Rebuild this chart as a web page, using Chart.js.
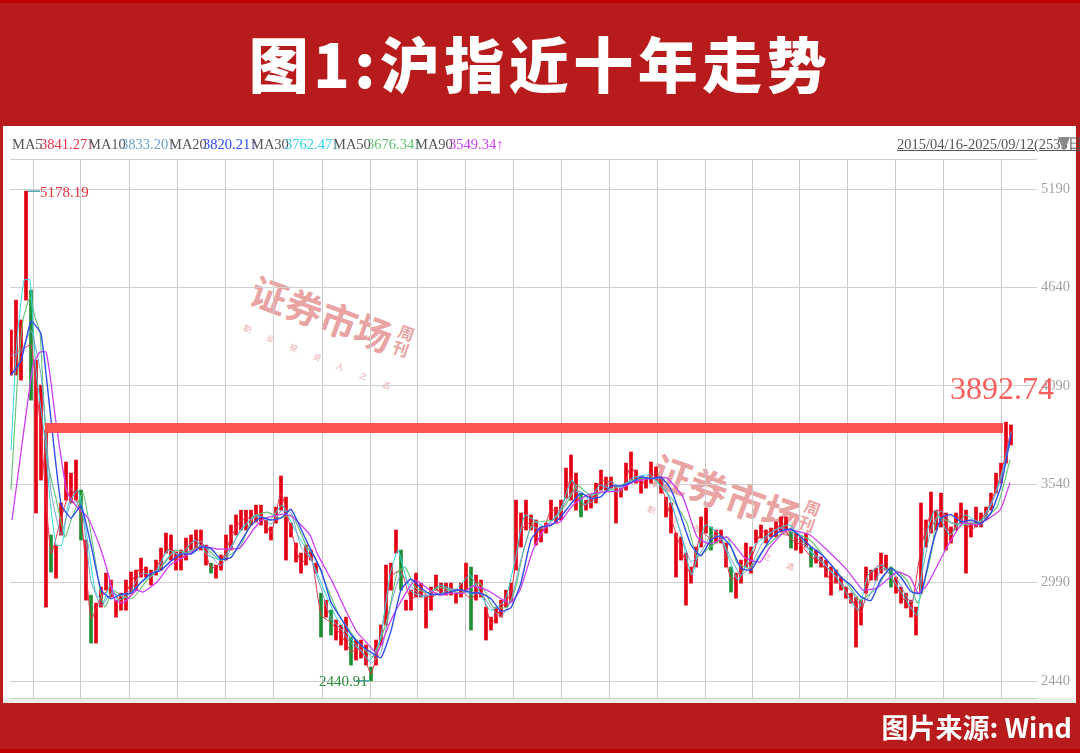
<!DOCTYPE html>
<html lang="zh"><head><meta charset="utf-8">
<script src="https://cdn.jsdelivr.net/npm/chart.js@4"></script>
<style>
html,body{margin:0;padding:0;background:#b71c1c;overflow:hidden}
#page{position:relative;width:1080px;height:753px;background:#b71b1c;overflow:hidden}
#topEdge{position:absolute;left:0;top:0;width:1080px;height:3px;background:#c00000}
#botEdge{position:absolute;left:0;top:749px;width:1080px;height:4px;background:#c00000}
#panel{position:absolute;left:3px;top:126px;width:1073px;height:577px;background:#fff}
#strip{position:absolute;left:3px;top:698px;width:1073px;height:5px;background:#efefef}
canvas{position:absolute;left:0;top:0;filter:blur(.35px)}
.t{position:absolute;white-space:nowrap}
#title{left:0;top:22px;width:1080px;text-align:center;color:#fff;font:900 60px/80px "Noto Sans CJK SC";letter-spacing:4.5px}
#source{right:8px;top:708px;color:#fff;font:700 27px/38px "Noto Sans CJK SC"}
.lg{top:135px;font:14.5px/18px "Liberation Sans Narrow";filter:blur(.3px)}
#range{left:897px;top:135px;color:#555;font:14.5px/18px "Liberation Sans Narrow";text-decoration:underline;filter:blur(.3px)}
#tri{left:1058px;top:137px;width:0;height:0;border-left:6px solid transparent;border-right:6px solid transparent;border-top:15px solid #8a8a8a}
#hiLab{left:40px;top:183px;color:#e8323c;font:15px/18px "Liberation Sans Narrow";filter:blur(.3px)}
#loLab{left:319px;top:672px;color:#2e8b3c;font:15px/18px "Liberation Sans Narrow";filter:blur(.3px)}
#last{left:950px;top:368px;color:#fb5f5f;font:32px/40px "Liberation Sans Narrow";filter:blur(.3px)}
.wm{color:#e79a9a;font-weight:700;font-family:"Noto Sans CJK SC";transform-origin:0 0;opacity:.9}
.wms{color:#e9a8a8;font-family:"Noto Sans CJK SC";transform-origin:0 0;font-size:8px;letter-spacing:17px}
</style></head><body>
<div id="page">
<div id="topEdge"></div><div id="botEdge"></div>
<div id="panel"></div><div id="strip"></div>
<div class="t wm" style="left:262px;top:262px;font-size:37px;transform:rotate(20deg)">证券市场</div>
<div class="t wm" style="left:402px;top:322px;font-size:16px;line-height:17px;transform:rotate(20deg);white-space:normal;width:18px">周刊</div>
<div class="t wms" style="left:246px;top:322px;transform:rotate(22deg)">职业投资人之选</div>
<div class="t wm" style="left:664px;top:440px;font-size:39px;transform:rotate(20deg)">证券市场</div>
<div class="t wm" style="left:808px;top:497px;font-size:16px;line-height:17px;transform:rotate(20deg);white-space:normal;width:18px">周刊</div>
<div class="t wms" style="left:650px;top:503px;transform:rotate(22deg)">职业投资人之选</div>
<canvas id="c" width="1080" height="753"></canvas>
<div class="t" id="title">图1:沪指近十年走势</div>
<div class="t" id="source">图片来源: Wind</div>
<div id="legend"></div>
<div class="t" id="range">2015/04/16-2025/09/12(2535日)</div>
<div class="t" id="tri"></div>
<div class="t" id="hiLab">5178.19</div>
<div class="t" id="loLab">2440.91</div>
<div class="t" id="last">3892.74</div>
</div>
<script>
const yTicks=[5190,4640,4090,3540,2990,2440];
const gridDays=[9.2,18.6,28.6,37.8,47.8,57.2,67.2,76.4,86.2,95.6,105.4,114.6,124.6,134,143.8,152.8,162.6,172,181.8,191];
const maNames=["MA5","MA10","MA20","MA30","MA50","MA90"];
const maLast=["3841.27","3833.20","3820.21","3762.47","3676.34","3549.34"];
const highs=[4402,4569,4458,5178,4625,4234,4094,3843,3256,3200,3435,3664,3602,3675,3507,3228,2920,2875,2965,3043,3004,2892,2931,3004,3049,3060,3127,3077,3060,3116,3183,3267,3256,3161,3172,3239,3256,3284,3284,3200,3099,3088,3144,3256,3312,3368,3395,3395,3395,3423,3423,3340,3301,3412,3586,3468,3323,3211,3155,3200,3172,3099,2931,2892,2836,2781,2753,2797,2686,2669,2669,2641,2518,2669,2753,3088,3099,3284,3172,2892,2948,3043,2987,2920,2965,3032,2987,2987,2987,2931,2987,3099,3077,3032,3004,2853,2797,2853,2892,2948,2987,3451,3379,3451,3368,3340,3301,3323,3451,3412,3451,3630,3703,3602,3490,3451,3479,3546,3619,3580,3580,3524,3518,3658,3720,3619,3580,3574,3664,3636,3580,3468,3435,3267,3245,3155,3077,3189,3357,3407,3301,3284,3284,3211,3077,3043,3116,3211,3189,3284,3312,3284,3295,3329,3357,3357,3284,3267,3245,3267,3189,3172,3133,3116,3077,3060,3021,2965,2931,2909,2892,3077,3060,3071,3155,3144,3077,3021,2965,2931,2892,2853,3435,3340,3496,3395,3490,3379,3301,3379,3435,3395,3323,3412,3379,3412,3490,3602,3658,3887,3871];
const lows=[4150,4150,4122,4569,4010,3379,3563,2853,3049,3015,3256,3451,3435,3451,3228,2892,2652,2652,2853,2948,2909,2797,2836,2836,2931,2948,3021,3021,2976,3032,3060,3155,3116,3060,3060,3116,3172,3172,3172,3088,3043,3015,3060,3116,3172,3256,3284,3284,3312,3329,3312,3267,3228,3323,3395,3116,3245,3105,3043,3088,3116,3043,2686,2797,2697,2669,2641,2613,2529,2557,2568,2529,2441,2529,2641,2753,2948,3155,2948,2836,2836,2909,2909,2736,2836,2948,2931,2920,2920,2875,2909,2948,2725,2892,2909,2669,2725,2764,2797,2853,2881,3060,3189,3284,3284,3200,3217,3267,3340,3323,3340,3462,3451,3395,3357,3395,3407,3435,3507,3507,3518,3323,3468,3507,3563,3546,3490,3518,3546,3563,3490,3357,3267,3021,3116,2864,2987,3077,3189,3267,3172,3211,3211,3077,2937,2903,2987,3077,3043,3211,3239,3211,3245,3245,3273,3284,3183,3172,3155,3189,3077,3099,3077,3021,2920,2987,2948,2903,2875,2630,2753,2931,3004,3004,3043,3060,2965,2931,2875,2848,2797,2697,2931,3189,3267,3284,3301,3172,3211,3284,3323,3043,3245,3301,3301,3340,3395,3490,3546,3658,3759];
const ma5=[4276,4290,4318,3828,3152,3345,3518,3367,2786,2909,2956,2883,2990,3074,3018,3121,3186,3116,3214,3228,3071,3102,3242,3340,3353,3367,3265,3490,3284,3099,3144,2808,2766,2697,2607,2618,2480,2697,3023,3060,2892,2948,2900,2959,2953,2948,2900,2956,2761,2844,2934,3284,3326,3259,3395,3395,3577,3423,3443,3563,3549,3493,3641,3535,3605,3535,3351,3180,3032,3273,3236,3247,3007,3051,3116,3275,3270,3315,3233,3200,3133,3105,2998,2985,2903,2822,3032,3099,3021,2920,2844,3183,3381,3395,3256,3379,3284,3340,3440,3600,3841];
const ma10=[4260,4280,4400,4150,3500,3260,3440,3430,3000,2860,2930,2915,2950,3040,3040,3080,3150,3150,3170,3220,3140,3085,3180,3290,3345,3360,3315,3390,3380,3190,3120,2960,2790,2730,2650,2610,2540,2600,2870,3040,2970,2920,2920,2930,2955,2950,2925,2930,2850,2800,2890,3120,3300,3290,3330,3395,3490,3500,3435,3505,3555,3520,3570,3585,3570,3570,3440,3260,3105,3160,3255,3240,3125,3030,3085,3200,3270,3295,3275,3215,3165,3120,3050,2990,2945,2860,2930,3065,3060,2970,2880,3020,3290,3390,3325,3320,3330,3310,3420,3570,3833];
const ma20=[4150,4230,4450,4380,3900,3430,3350,3420,3200,2950,2900,2925,2930,2990,3040,3060,3110,3150,3150,3190,3180,3120,3130,3220,3310,3355,3340,3350,3400,3290,3170,3060,2880,2790,2700,2640,2600,2570,2720,2950,3010,2960,2925,2925,2940,2950,2935,2930,2900,2830,2850,2990,3230,3300,3310,3360,3430,3490,3460,3470,3530,3530,3550,3580,3570,3580,3510,3360,3200,3140,3230,3250,3190,3070,3060,3150,3240,3280,3290,3245,3190,3150,3090,3020,2975,2910,2890,3010,3070,3020,2940,2930,3170,3350,3370,3330,3340,3320,3380,3530,3820];
const ma30Days=[0,1.2,2.6,3.8,5,6.8,7.8,9,10.2,11.4,13.4,15,16.8,18.4,19.8,21.4,23.4,25.8,28.8,31.4,33.8,36.8,39.4,42.2,45.4,48.8,51.8,54.2,56.8,59.4,61.8,64.8,68.2,71.8,73.8,75.8,77.4,79.8,82.8,85.8,88.8,91.8,95.8,98.8,100.8,102.8,106.8,109.8,112.2,114.8,117.8,121.4,124.2,127.8,131.4,133.8,136.2,138.8,141.8,145.4,148.8,152.8,155.8,160.2,164.8,169.4,171.4,174.2,177.8,181.2,182.8,184.8,187.8,190.8,193.8,196.8,199.8];
const ma30=[3731,4346,4681,4681,4178,3787,3451,3200,3200,3423,3507,3284,2948,2876,2976,2892,2920,2987,3043,3172,3144,3228,3144,3116,3256,3368,3340,3423,3284,3161,3004,2808,2669,2557,2669,3032,3172,2948,2909,2976,2948,3032,2836,2892,3116,3368,3301,3395,3563,3423,3535,3496,3574,3591,3479,3284,3032,3312,3256,3004,3200,3284,3312,3155,3032,2836,3032,3088,2948,2809,3228,3395,3256,3368,3329,3479,3762];
const ma50Days=[0,1.2,2.4,3.8,4.8,5.8,6.4,7.4,9.2,10.8,12.2,14.4,16.2,17.8,18.8,20.4,22.4,24.4,27.2,30.4,32.8,35.2,38.4,41.8,45.8,48.4,51.2,53.8,56.2,59.2,60.8,63.2,65.8,69.2,72.4,75.2,77.2,78.8,80.8,83.2,85.8,89.8,93.8,96.4,99.2,100.8,102.4,104.4,108.4,111.2,113.2,115.8,119.8,124.4,128.4,132.4,135.2,137.2,139.8,143.2,145.2,147.8,150.4,153.2,155.2,159.8,163.2,167.8,169.8,173.2,175.8,179.2,181.4,184.2,185.2,189.2,193.2,197.2,199.8];
const ma50=[3507,4083,4458,4586,4474,4385,4083,3658,3435,3245,3356,3491,3228,2948,2853,2948,2909,2904,3004,3088,3172,3155,3200,3116,3189,3356,3384,3351,3368,3189,3133,2965,2797,2669,2574,2781,3043,3077,2965,2932,2965,2932,2987,2853,2853,2948,3155,3323,3340,3435,3535,3479,3507,3563,3574,3451,3323,3133,3189,3245,3100,3071,3172,3245,3284,3228,3116,2965,2892,2960,3077,3004,2876,3172,3356,3312,3323,3412,3676];
const ma90Days=[0.2,4.4,5.8,7,7.8,8.8,9.8,11.2,13.2,15.4,17.8,19.4,20.8,22.4,25.2,26.4,29.2,31.8,35.2,38.2,41.2,43.8,45.8,48.4,50.4,54.4,56.4,59.8,61.2,64.4,67.2,69.2,71.2,73.2,75.8,77.8,80.8,83.8,85.8,88.4,90.4,92.4,95.2,97.8,99.8,101.8,104.4,107.2,109.8,112.4,115.2,117.8,121.2,124.4,128.4,131.2,134.4,137.2,139.8,143.2,146.8,149.8,151.8,155.2,159.8,163.2,167.2,169.8,170.4,173.2,177.2,179.8,181.4,183.2,187.2,190.4,193.2,197.8,199.8];
const ma90=[3340,4206,4279,4279,4150,3927,3731,3496,3412,3351,3189,3043,2892,2876,2948,2937,2993,3088,3144,3194,3178,3178,3183,3284,3345,3373,3356,3256,3155,2987,2820,2714,2652,2596,2769,2876,3004,2948,2920,2931,2931,2971,2948,2904,2876,2948,3172,3312,3329,3424,3479,3496,3502,3552,3574,3574,3468,3245,3206,3245,3127,3105,3189,3284,3256,3172,3060,2965,2948,2960,3049,3021,2932,2976,3189,3323,3312,3395,3549];
const markLevel=3854, markFrom=6.8, markTo=198.4;
const colors={ma5:"#e8324a",ma10:"#6fa0cc",ma20:"#2f4df0",ma30:"#2fd5e3",ma50:"#62c474",ma90:"#cf3df2"};

const legendX=[12,40,88,121,169,203,251,285,333,367,415,449];
const legendCol=[colors.ma5,colors.ma10,colors.ma20,colors.ma30,colors.ma50,colors.ma90];
const lg=document.getElementById("legend");
maNames.forEach((n,i)=>{
  [[n,"#555",legendX[i*2]],[maLast[i]+"↑",legendCol[i],legendX[i*2+1]]].forEach(([s,c,x])=>{
    const d=document.createElement("div");d.className="t lg";d.textContent=s;d.style.left=x+"px";d.style.color=c;lg.appendChild(d);
  });
});

const bars=highs.map((h,i)=>({x:i,y:[lows[i],h]}));
const barCols=highs.map((h,i)=>{
  if(i===0) return "#e60012";
  const m=(h+lows[i])/2,p=(highs[i-1]+lows[i-1])/2;
  return (m-p<-70 && i%2===0)?"#1f8f35":"#e60012";
});
const even=a=>a.map((y,k)=>({x:k*2,y}));
const zip=(d,v)=>d.map((x,k)=>({x,y:v[k]}));
const line=(label,data,color,w,order)=>({type:"line",label,data,borderColor:color,borderWidth:w,pointRadius:0,tension:0.15,order,parsing:true});

new Chart(document.getElementById("c"),{
  data:{datasets:[
    {type:"line",label:"level",data:[{x:markFrom,y:markLevel},{x:markTo,y:markLevel}],borderColor:"#fb5252",borderWidth:10,pointRadius:0,order:1},
    {type:"line",label:"hiArrow",data:[{x:3.4,y:5178.19},{x:5.8,y:5178.19}],borderColor:"#4aa0b0",borderWidth:1.5,pointRadius:0,order:1},
    {type:"line",label:"loArrow",data:[{x:69,y:2440.91},{x:71.6,y:2440.91}],borderColor:"#4aa0b0",borderWidth:1.5,pointRadius:0,order:1},
    line("MA5",even(ma5),colors.ma5,1,7),
    line("MA10",even(ma10),colors.ma10,1,3),
    line("MA20",even(ma20),colors.ma20,1.4,2),
    line("MA30",zip(ma30Days,ma30),colors.ma30,1,4),
    line("MA50",zip(ma50Days,ma50),colors.ma50,1.1,5),
    line("MA90",zip(ma90Days,ma90),colors.ma90,1.3,2),
    {type:"bar",label:"K",data:bars,backgroundColor:barCols,barThickness:3,order:9}
  ]},
  options:{
    responsive:false,animation:false,devicePixelRatio:1,
    layout:{padding:{left:10,top:159,bottom:55,right:0}},
    plugins:{legend:{display:false},tooltip:{enabled:false}},
    scales:{
      x:{type:"linear",offset:false,min:-0.2,max:205.2,
        afterBuildTicks:s=>{s.ticks=[-0.2,...gridDays,205.2].map(v=>({value:v}))},
        afterFit:s=>{s.height=0},
        ticks:{display:false},border:{display:false},
        grid:{color:"#c9c9c9",borderDash:[2,3],lineWidth:1,drawTicks:false}},
      y:{type:"linear",position:"right",min:2345,max:5358,
        afterBuildTicks:s=>{s.ticks=[5358,...yTicks,2345].map(v=>({value:v}))},
        afterFit:s=>{s.width=43},
        border:{display:false},
        grid:{color:"#cfcfcf",borderDash:[2,2],lineWidth:1,drawTicks:false},
        ticks:{padding:4,color:"#a3a3a3",font:{family:"Liberation Sans Narrow",size:14.5},
          callback:v=>yTicks.includes(v)?String(v):""}}
    }
  }
});
</script>
</body></html>
